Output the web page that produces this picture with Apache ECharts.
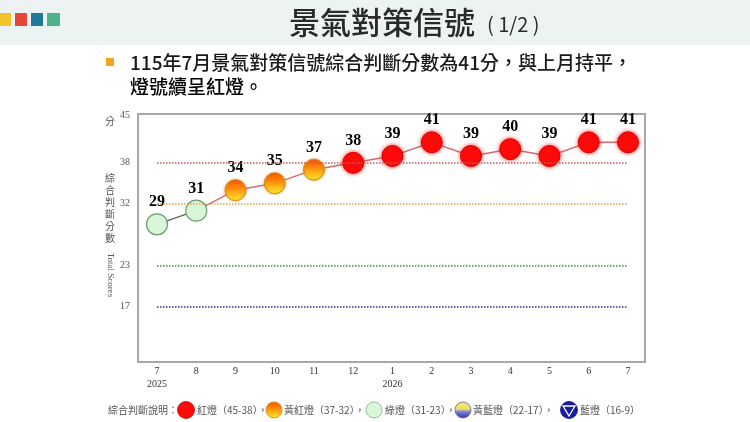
<!DOCTYPE html>
<html>
<head>
<meta charset="utf-8">
<script src="https://cdn.jsdelivr.net/npm/echarts@6/dist/echarts.min.js"></script>
<style>
html,body{margin:0;padding:0;background:#fff}
#chart{width:750px;height:422px}
</style>
</head>
<body>
<div id="chart"></div>
<script>

// data
const months = ["7","8","9","10","11","12","1","2","3","4","5","6","7"]
const years = ["2025","","","","","","2026","","","","","",""]
const scores = [29,31,34,35,37,38,39,41,39,40,39,41,41]
const refLines = [38,32,23,17]
const refColors = ["#c25a5a","#e6a04a","#3f8f3f","#2b2b86"]
const yTicks = [45,38,32,23,17]

const cats = months.map((m,i) => years[i] ? m + "\n" + years[i] : m)

/* marker look by signal */
function markerStyle(v){
if(v >= 38){
return {opacity:1,color:"#ff0a0a",borderColor:"#e00000",borderWidth:1,shadowColor:"rgba(220,0,0,0.7)",shadowBlur:4}
}
if(v >= 32){
return {
opacity:1,
color:{type:"linear",x:0,y:0,x2:0,y2:1,colorStops:[
{offset:0,color:"#ff4a00"},{offset:0.5,color:"#ff9a10"},{offset:1,color:"#fff030"}
]},
borderColor:"#d08a10",borderWidth:1,shadowColor:"rgba(200,120,0,0.5)",shadowBlur:3
}
}
return {opacity:1,color:"#d8f5d8",borderColor:"#6f9f72",borderWidth:1.2}
}

const grayLine = scores.map((v,i) => v < 32 ? v : null)
const redLine = scores.map((v,i) => (v >= 32 || (scores[i+1] !== undefined && scores[i+1] >= 32)) ? v : null)

const dots = scores.map(v => ({value:v, itemStyle:markerStyle(v)}))

const chart = echarts.init(document.getElementById("chart"))

const legendFont = {fontSize:10,fill:"#555",fontFamily:"Noto Sans CJK TC"}

chart.setOption({

animation:false,

grid:{left:157,right:122,top:115,bottom:61},

xAxis:{
type:"category",
data:cats,
boundaryGap:false,
axisLine:{show:false},
axisTick:{show:false},
axisLabel:{
margin:4,
fontSize:10,
lineHeight:13,
color:"#333",
fontFamily:"Liberation Serif"
}
},

yAxis:{
type:"value",
min:9,
max:45,
interval:1,
splitLine:{show:false},
axisLine:{show:false},
axisTick:{show:false},
axisLabel:{
margin:27,
fontSize:10,
color:"#555",
fontFamily:"Liberation Serif",
formatter:v => yTicks.includes(v) ? String(v) : ""
}
},

series:[
{
type:"line",
data:grayLine,
symbol:"none",
lineStyle:{color:"#5a6b5a",width:1.5},
z:2,
markLine:{
silent:true,
symbol:"none",
label:{show:false},
data:refLines.map((v,i) => ({
yAxis:v,
lineStyle:{color:refColors[i],type:[1.5,1.5],width:1.5}
}))
}
},
{
type:"line",
data:redLine,
symbol:"none",
lineStyle:{color:"#d86a6a",width:1.5},
z:2
},
{
type:"scatter",
data:dots,
symbolSize:21,
z:3,
itemStyle:{opacity:1},
label:{
show:true,
position:"top",
distance:3,
fontSize:16,
fontWeight:"bold",
color:"#000",
opacity:1,
fontFamily:"Liberation Serif"
}
}
],

graphic:[
// header band
{type:"rect",shape:{x:0,y:0,width:750,height:45},style:{fill:"#edf2f3"},z:-10},
{type:"rect",shape:{x:0,y:13,width:11,height:13},style:{fill:"#f4c22b"}},
{type:"rect",shape:{x:15,y:13,width:12,height:13},style:{fill:"#e5483b"}},
{type:"rect",shape:{x:31,y:13,width:12,height:13},style:{fill:"#1f7a9a"}},
{type:"rect",shape:{x:47,y:13,width:13,height:13},style:{fill:"#4db38a"}},
{type:"text",x:289,y:22,style:{text:"景氣對策信號",fontSize:31,fontWeight:500,fill:"#2a2a2a",fontFamily:"Noto Sans CJK TC",verticalAlign:"middle"}},
{type:"text",x:487,y:24,style:{text:"( 1/2 )",fontSize:20,fill:"#2a2a2a",fontFamily:"Noto Sans CJK TC",verticalAlign:"middle"}},

// bullet text
{type:"rect",shape:{x:106,y:58,width:8,height:8},style:{fill:"#f5a31a"}},
{type:"text",x:130,y:63,style:{text:"115年7月景氣對策信號綜合判斷分數為41分，與上月持平，",fontSize:19,fontWeight:500,fill:"#1a1a1a",fontFamily:"Noto Sans CJK TC",verticalAlign:"middle"}},
{type:"text",x:130,y:87,style:{
text:"{a|燈號續呈}{r|紅}{a|燈。}",
verticalAlign:"middle",
rich:{
a:{fontSize:19,fontWeight:500,color:"#1a1a1a",fontFamily:"Noto Sans CJK TC"},
r:{fontSize:19,fontWeight:500,color:"#e02020",fontFamily:"Noto Sans CJK TC"}
}
}},

// plot frame
{type:"rect",shape:{x:138,y:114,width:507,height:248},style:{fill:"none",stroke:"#a8a8a8",lineWidth:2},z:-1},

// y axis titles
{type:"text",x:110,y:121,style:{text:"分",fontSize:10,fill:"#555",fontFamily:"Noto Sans CJK TC",align:"center",verticalAlign:"middle"}},
{type:"text",x:110,y:208,style:{text:"綜\n合\n判\n斷\n分\n數",fontSize:10,lineHeight:12,fill:"#555",fontFamily:"Noto Sans CJK TC",align:"center",verticalAlign:"middle"}},
{type:"text",x:110,y:275,rotation:-Math.PI/2,style:{text:"Total Scores",fontSize:9,fill:"#555",fontFamily:"Liberation Serif",align:"center",verticalAlign:"middle"}},

// legend
{type:"text",x:108,y:410,style:Object.assign({text:"綜合判斷說明：",verticalAlign:"middle"},legendFont)},
{type:"circle",shape:{cx:186,cy:410,r:8.5},style:{fill:"#ff0a0a",stroke:"#c00",lineWidth:0.8}},
{type:"text",x:197,y:410,style:Object.assign({text:"紅燈（45-38），",verticalAlign:"middle"},legendFont)},
{type:"circle",shape:{cx:274,cy:410,r:8},style:{
fill:{type:"linear",x:0,y:0,x2:0,y2:1,colorStops:[{offset:0,color:"#ff4a00"},{offset:0.5,color:"#ff9a10"},{offset:1,color:"#fff030"}]},
stroke:"#c88a10",lineWidth:0.8}},
{type:"text",x:284,y:410,style:Object.assign({text:"黃紅燈（37-32），",verticalAlign:"middle"},legendFont)},
{type:"circle",shape:{cx:374,cy:410,r:8},style:{fill:"#dcf6dc",stroke:"#7faf82",lineWidth:0.8}},
{type:"text",x:385,y:410,style:Object.assign({text:"綠燈（31-23），",verticalAlign:"middle"},legendFont)},
{type:"circle",shape:{cx:463,cy:410,r:8},style:{
fill:{type:"linear",x:0,y:0,x2:0,y2:1,colorStops:[{offset:0,color:"#f4e860"},{offset:0.45,color:"#e8e070"},{offset:0.6,color:"#8080d0"},{offset:1,color:"#3030b0"}]},
stroke:"#666699",lineWidth:0.8}},
{type:"text",x:473,y:410,style:Object.assign({text:"黃藍燈（22-17），",verticalAlign:"middle"},legendFont)},
{type:"circle",shape:{cx:569,cy:410,r:8.5},style:{fill:"#1a1aa8",stroke:"#101070",lineWidth:0.8}},
{type:"polygon",shape:{points:[[563,406],[575,406],[569,416]]},style:{fill:"none",stroke:"#fff",lineWidth:1.3}},
{type:"text",x:580,y:410,style:Object.assign({text:"藍燈（16-9）",verticalAlign:"middle"},legendFont)}
]

})

</script>
</body>
</html>
